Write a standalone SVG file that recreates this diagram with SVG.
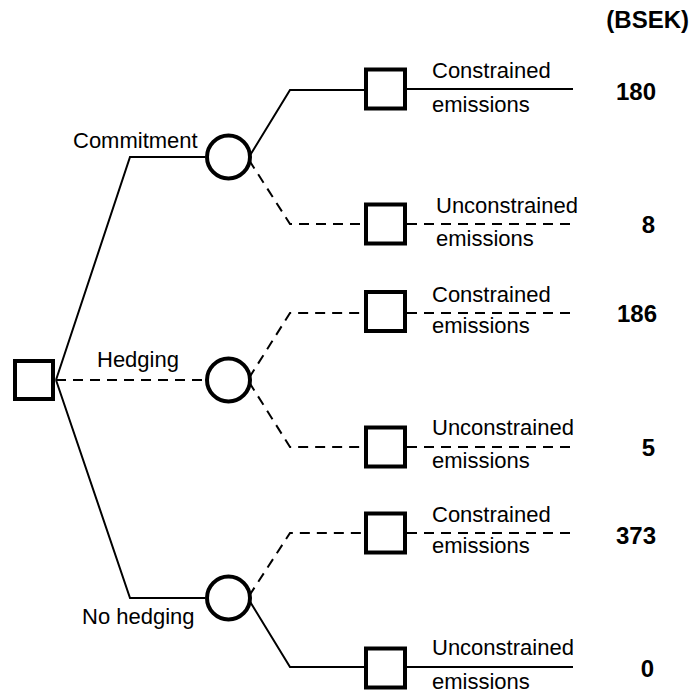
<svg xmlns="http://www.w3.org/2000/svg" width="692" height="694" viewBox="0 0 692 694">
<style>
.bg{fill:#fff}
.ln{fill:none;stroke:#000;stroke-width:2}
.ds{stroke-dasharray:10 7}
.dec{fill:#fff;stroke:#000;stroke-width:4}
.chance{fill:#fff;stroke:#000;stroke-width:4}
.lbl{font-family:"Liberation Sans",Arial,sans-serif;font-size:22px;fill:#000}
.val{font-family:"Liberation Sans",Arial,sans-serif;font-size:24px;font-weight:bold;fill:#000;text-anchor:end}
</style>
<rect class="bg" x="0" y="0" width="692" height="694"/>
<g id="connectors">
<polyline class="ln" points="56,380 130,157 205,157"/>
<polyline class="ln ds" points="56,380 205,380"/>
<polyline class="ln" points="56,380 130,598 205,598"/>
<polyline class="ln" points="249,157 290,90 365,90"/>
<polyline class="ln ds" points="249,160 290,224 365,224"/>
<polyline class="ln ds" points="249,378 290,313 365,313"/>
<polyline class="ln ds" points="249,382 290,447 365,447"/>
<polyline class="ln ds" points="249,596 290,533 365,533"/>
<polyline class="ln" points="249,600 290,667 365,667"/>
<line class="ln" x1="407" y1="89" x2="573" y2="89"/>
<line class="ln ds" x1="407" y1="224" x2="573" y2="224"/>
<line class="ln ds" x1="407" y1="313" x2="573" y2="313"/>
<line class="ln ds" x1="407" y1="447" x2="573" y2="447"/>
<line class="ln ds" x1="407" y1="533" x2="573" y2="533"/>
<line class="ln" x1="407" y1="667" x2="573" y2="667"/>
</g>
<text class="lbl" x="73" y="148">Commitment</text>
<text class="lbl" x="97" y="367">Hedging</text>
<text class="lbl" x="82" y="624">No hedging</text>
<g id="root"><rect class="dec" x="15" y="361" width="38" height="38"/></g>
<g id="c-commitment"><circle class="chance" cx="228.5" cy="157" r="21.5"/></g>
<g id="c-hedging"><circle class="chance" cx="228.5" cy="380" r="21.5"/></g>
<g id="c-nohedging"><circle class="chance" cx="228.5" cy="598" r="21.5"/></g>
<g id="o1"><rect class="dec" x="366" y="69.5" width="39" height="39"/>
<text class="lbl" x="432" y="78">Constrained</text><text class="lbl" x="432" y="112">emissions</text><text class="val" x="656" y="100">180</text></g>
<g id="o2"><rect class="dec" x="366" y="204.5" width="39" height="39"/>
<text class="lbl" x="436" y="213">Unconstrained</text><text class="lbl" x="436" y="246">emissions</text><text class="val" x="655" y="233">8</text></g>
<g id="o3"><rect class="dec" x="366" y="292" width="39" height="39"/>
<text class="lbl" x="432" y="302">Constrained</text><text class="lbl" x="432" y="333">emissions</text><text class="val" x="657" y="322">186</text></g>
<g id="o4"><rect class="dec" x="366" y="427.5" width="39" height="39"/>
<text class="lbl" x="432" y="435">Unconstrained</text><text class="lbl" x="432" y="468">emissions</text><text class="val" x="655" y="456">5</text></g>
<g id="o5"><rect class="dec" x="366" y="513.5" width="39" height="39"/>
<text class="lbl" x="432" y="522">Constrained</text><text class="lbl" x="432" y="553">emissions</text><text class="val" x="656" y="544">373</text></g>
<g id="o6"><rect class="dec" x="366" y="648.5" width="39" height="39"/>
<text class="lbl" x="432" y="655">Unconstrained</text><text class="lbl" x="432" y="689">emissions</text><text class="val" x="654" y="677">0</text></g>
<text class="val" x="689" y="28" style="font-size:24px">(BSEK)</text>
</svg>
